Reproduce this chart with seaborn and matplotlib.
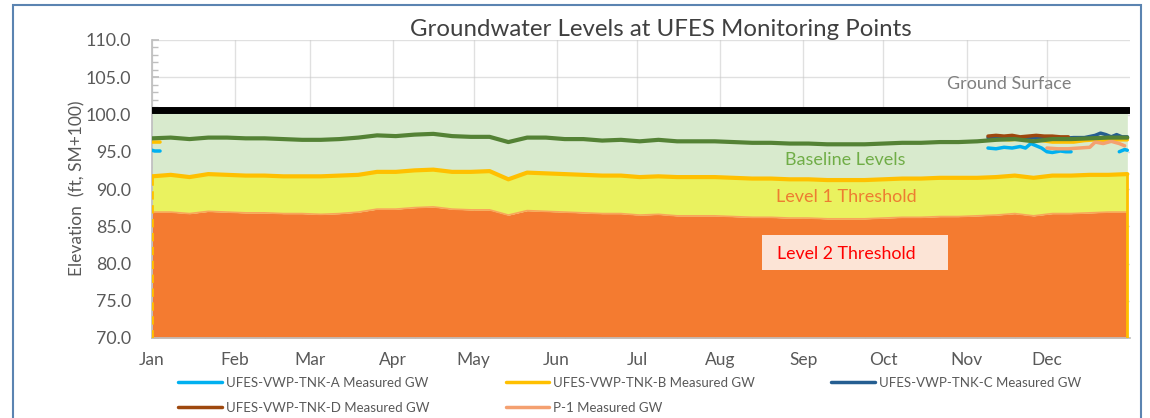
import numpy as np
import pandas as pd
import matplotlib
matplotlib.use("Agg")
import matplotlib.pyplot as plt
from matplotlib.patches import Rectangle
from matplotlib.ticker import MultipleLocator, FixedLocator, FormatStrFormatter
import seaborn as sns

# ---------------- data ----------------
months = ["Jan", "Feb", "Mar", "Apr", "May", "Jun", "Jul", "Aug", "Sep", "Oct", "Nov", "Dec"]
month_start_days = [0, 31, 59, 90, 120, 151, 181, 212, 243, 273, 304, 334]

# weekly points (day of year)
band_days = [0, 7, 14, 21, 28, 35, 42, 49, 56, 63, 70, 77, 84, 91, 98, 105, 112, 119, 126, 133,
             140, 147, 154, 161, 168, 175, 182, 189, 196, 203, 210, 217, 224, 231, 238, 245, 252,
             259, 266, 273, 280, 287, 294, 301, 308, 315, 322, 329, 336, 343, 350, 357, 364]
baseline = [96.8, 96.9, 96.7, 96.9, 96.9, 96.8, 96.8, 96.7, 96.6, 96.6, 96.7, 96.9, 97.2, 97.1,
            97.3, 97.4, 97.1, 97.0, 97.0, 96.3, 96.9, 96.9, 96.7, 96.7, 96.5, 96.6, 96.4, 96.6,
            96.4, 96.4, 96.4, 96.3, 96.2, 96.2, 96.1, 96.1, 96.0, 96.0, 96.0, 96.1, 96.2, 96.2,
            96.3, 96.3, 96.4, 96.6, 96.7, 96.4, 96.7, 96.7, 96.8, 96.9, 96.9]
level1 = [91.7, 91.9, 91.6, 92.0, 91.9, 91.8, 91.8, 91.7, 91.7, 91.7, 91.8, 91.9, 92.3, 92.3,
          92.5, 92.6, 92.3, 92.3, 92.4, 91.3, 92.2, 92.1, 92.0, 91.9, 91.8, 91.8, 91.6, 91.7,
          91.6, 91.6, 91.6, 91.5, 91.4, 91.4, 91.3, 91.3, 91.2, 91.2, 91.2, 91.3, 91.4, 91.4,
          91.5, 91.5, 91.5, 91.6, 91.8, 91.5, 91.8, 91.8, 91.9, 91.9, 92.0]
level2 = [86.9, 86.9, 86.7, 87.0, 86.9, 86.8, 86.8, 86.7, 86.7, 86.6, 86.7, 86.9, 87.3, 87.3,
          87.5, 87.6, 87.3, 87.2, 87.2, 86.5, 87.1, 87.0, 86.9, 86.8, 86.7, 86.7, 86.5, 86.6,
          86.4, 86.4, 86.4, 86.3, 86.2, 86.2, 86.1, 86.1, 86.0, 86.0, 86.0, 86.1, 86.2, 86.2,
          86.3, 86.3, 86.4, 86.5, 86.7, 86.4, 86.7, 86.7, 86.8, 86.9, 86.9]
ground_surface = 100.6

tnk_a_days = [0, 1, 3, 4, 312, 315, 318, 321, 324, 326, 328, 330, 332, 334, 336, 339, 341, 343, 344,
              361, 363, 364]
tnk_a_vals = [95.2, 95.1, 95.1, np.nan, 95.5, 95.4, 95.6, 95.5, 95.7, 95.5, 96.1, 95.8, 95.5, 95.0,
              94.9, 95.1, 95.0, 95.0, np.nan, 95.0, 95.3, 95.2]
tnk_b_days = [0, 1, 3, 4, 312, 316, 320, 324, 328, 332, 336, 340, 344, 348, 352, 356, 360, 364]
tnk_b_vals = [96.3, 96.3, 96.3, np.nan, 96.6, 96.7, 96.6, 96.7, 96.6, 96.5, 96.3, 96.3, 96.3, 96.5,
              96.6, 96.5, 96.6, 96.6]
tnk_c_days = [312, 316, 320, 324, 328, 332, 336, 340, 344, 348, 352, 354, 356, 358, 360, 362, 364]
tnk_c_vals = [96.9, 96.8, 96.9, 96.8, 96.9, 96.8, 96.9, 96.8, 96.9, 96.9, 97.2, 97.5, 97.3, 97.0,
              97.3, 97.0, 97.0]
tnk_d_days = [312, 315, 318, 321, 324, 327, 330, 333, 336, 339, 342]
tnk_d_vals = [97.1, 97.2, 97.1, 97.2, 97.0, 97.1, 97.2, 97.1, 97.1, 97.0, 97.0]
p1_days = [334, 338, 342, 346, 350, 352, 355, 358, 361, 363]
p1_vals = [95.5, 95.4, 95.4, 95.5, 95.6, 96.3, 96.1, 96.4, 96.1, 95.8]

series_names = ["UFES-VWP-TNK-A Measured GW", "UFES-VWP-TNK-B Measured GW",
                "UFES-VWP-TNK-C Measured GW", "UFES-VWP-TNK-D Measured GW", "P-1 Measured GW"]
series_colors = ["#00B0F0", "#FFC000", "#255E91", "#9E480E", "#F4A070"]

# ---------------- style ----------------
sns.set_theme(style="white")
plt.rcParams["font.family"] = ["Lato", "DejaVu Sans"]
GRAY = "#595959"

fig = plt.figure(figsize=(11.5, 4.18), dpi=100)
ax = fig.add_axes([152 / 1150, 1 - 338 / 418, (1130 - 152) / 1150, (338 - 40) / 418])

bd = np.array(band_days, dtype=float)
ax.fill_between(bd, 70, level2, color="#F47B30", lw=0, zorder=1)
ax.fill_between(bd, level2, level1, color="#EAF25F", lw=0, zorder=1)
ax.fill_between(bd, level1, ground_surface, color="#D8EACD", lw=0, zorder=1)
ax.plot(bd, level2, color="#F8A65A", lw=1.2, zorder=2)

# measured series
measured = [(tnk_a_days, tnk_a_vals), (tnk_b_days, tnk_b_vals), (tnk_c_days, tnk_c_vals),
            (tnk_d_days, tnk_d_vals), (p1_days, p1_vals)]
handles = []
for (d, v), name, col in zip(measured, series_names, series_colors):
    h, = ax.plot(d, v, color=col, lw=2.5, zorder=4, label=name, solid_capstyle="round")
    handles.append(h)

# threshold / baseline lines via seaborn
df1 = pd.DataFrame({"day": band_days, "val": level1})
sns.lineplot(data=df1, x="day", y="val", ax=ax, color="#FFC000", lw=3, zorder=3, legend=False)
ax.plot([364, 364], [70, level1[-1]], color="#FFC000", lw=2, zorder=3)
ax.plot([0, 0], [70, level1[0]], color="#FFC000", lw=2, ls=(0, (3, 2)), zorder=3)
dfb = pd.DataFrame({"day": band_days, "val": baseline})
sns.lineplot(data=dfb, x="day", y="val", ax=ax, color="#548235", lw=3, zorder=5, legend=False)
ax.plot([0, 364.5], [ground_surface, ground_surface], color="black", lw=5, zorder=6,
        solid_capstyle="round")
if ax.get_legend() is not None:
    ax.get_legend().remove()

# axes
ax.set_xlim(0, 365)
ax.set_ylim(70, 110)
ax.set_xticks(month_start_days)
ax.set_xticklabels(months)
ax.xaxis.set_minor_locator(FixedLocator(list(range(0, 366, 14))))
ax.yaxis.set_major_locator(MultipleLocator(5))
ax.yaxis.set_minor_locator(MultipleLocator(1))
ax.yaxis.set_major_formatter(FormatStrFormatter("%.1f"))
ax.grid(True, which="major", color="#C8C8C8", lw=1, alpha=0.55, zorder=2.5)
ax.tick_params(axis="x", which="major", length=6, direction="out", color="#BFBFBF",
               labelsize=12.5, labelcolor=GRAY, pad=4)
ax.tick_params(axis="x", which="minor", length=4, direction="in", color="#BFBFBF", bottom=True)
ax.tick_params(axis="y", which="major", length=5, direction="in", color="#BFBFBF",
               labelsize=12.8, labelcolor=GRAY, pad=15, left=True)
ax.tick_params(axis="y", which="minor", length=4, direction="in", color="#BFBFBF", left=True)
for s in ["top", "right"]:
    ax.spines[s].set_visible(False)
ax.spines["left"].set_color("#BFBFBF")
ax.spines["bottom"].set_color("#BFBFBF")
ax.set_xlabel("")
ax.set_ylabel("")
fig.text(77 / 1150, 1 - 188 / 418, "Elevation  (ft, SM+100)", rotation=90, ha="center",
         va="center", fontsize=12.5, color=GRAY)

# title
fig.text(661 / 1150, 1 - 30 / 418, "Groundwater Levels at UFES Monitoring Points",
         ha="center", va="center", fontsize=17.3, color="#404040")

# annotations
ax.text(320, 104.1, "Ground Surface", ha="center", va="center", fontsize=13, color="#808080", zorder=7)
ax.text(258.6, 93.9, "Baseline Levels", ha="center", va="center", fontsize=13, color="#70AD47", zorder=7)
ax.text(259, 88.9, "Level 1 Threshold", ha="center", va="center", fontsize=13, color="#ED7D31", zorder=7)
ax.add_patch(Rectangle((227.6, 79.13), 69.4, 4.7, facecolor="#FCE4D6", edgecolor="none", zorder=7))
ax.text(259.3, 81.3, "Level 2 Threshold", ha="center", va="center", fontsize=12.8, color="#FF0000", zorder=8)

# legend
order = [0, 3, 1, 4, 2]
leg = fig.legend([handles[i] for i in order], [series_names[i] for i in order],
                 ncol=3, loc="upper left", bbox_to_anchor=(178 / 1150, 1 - 377 / 418),
                 frameon=False, fontsize=9.5, handlelength=3.3, handletextpad=0.3,
                 columnspacing=5.8, labelspacing=0.95, borderaxespad=0, borderpad=0)
for t in leg.get_texts():
    t.set_color(GRAY)

# figure border
fig.add_artist(Rectangle((13 / 1150, -0.2), (1141 - 13) / 1150, 1.2 - 5 / 418,
                         transform=fig.transFigure, fill=False, edgecolor="#5B84B1", lw=1.5))

fig.savefig("out.png", dpi=100)
